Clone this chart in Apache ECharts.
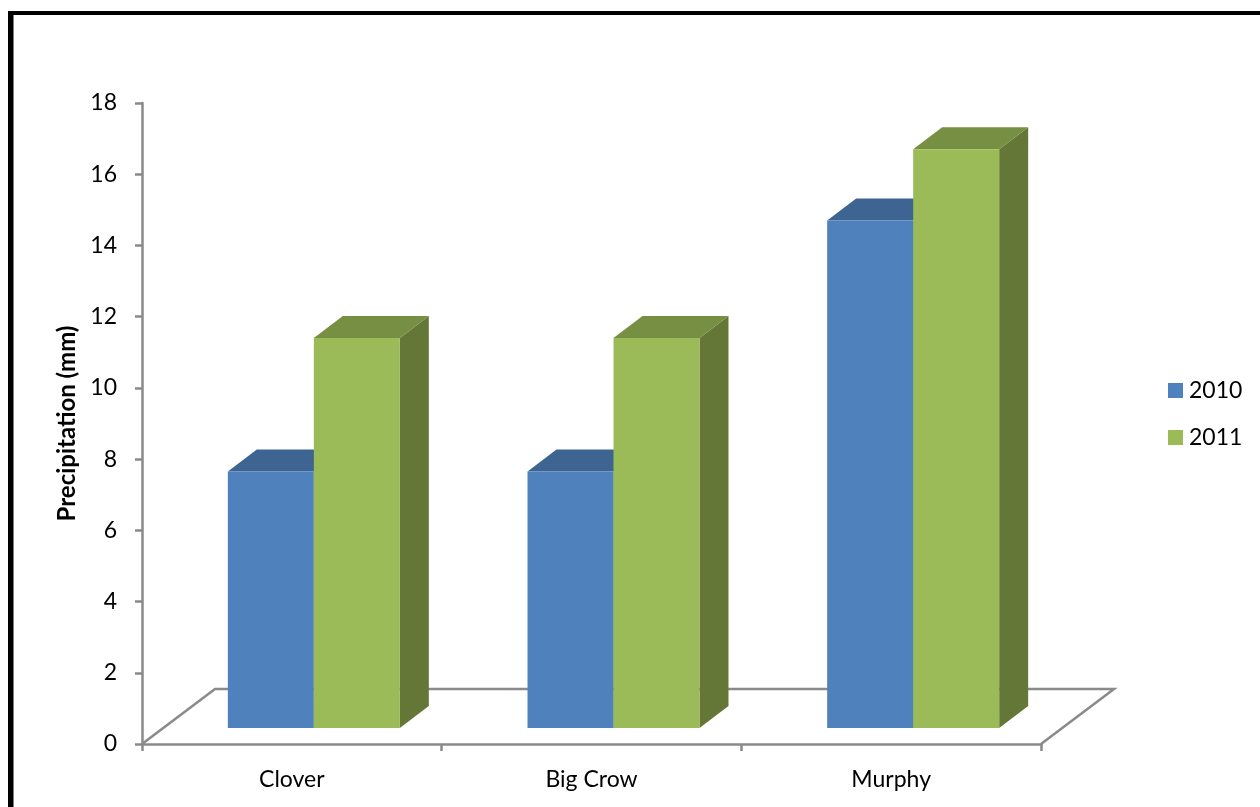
<!DOCTYPE html>
<html>
<head>
<meta charset="utf-8">
<style>html,body{margin:0;padding:0;background:#fff}#c{width:1260px;height:807px}</style>
<script src="https://cdn.jsdelivr.net/npm/echarts@6/dist/echarts.min.js"></script>
</head>
<body>
<div id="c"></div>
<script>
const categories = ['Clover', 'Big Crow', 'Murphy'];
const values2010 = [7.2, 7.2, 14.25];
const values2011 = [10.95, 10.95, 16.25];
const seriesNames = ['2010', '2011'];
const yTicks = { min: 0, max: 18, interval: 2 };

const FONT = 'Lato, Carlito, sans-serif';
const AXIS = '#8a8a8a';
const AXIS_W = 2.5;
const faces = [
  { front: '#4F81BD', top: '#3E6491', side: '#3A5F8B' },
  { front: '#9BBB59', top: '#778F43', side: '#657736' }
];
const DX = 29, DY = 22, LIFT = 16, SHIFT = 22, BAR = 86;

function barRenderer(seriesIndex) {
  return function (params, api) {
    const cat = api.value(0), val = api.value(1);
    const base = api.coord([cat, 0]);
    const top = api.coord([cat, val]);
    const x0 = base[0] + SHIFT + (seriesIndex - 1) * BAR;
    const x1 = x0 + BAR;
    const yb = base[1] - LIFT, yt = top[1] - LIFT;
    const f = faces[seriesIndex];
    return {
      type: 'group',
      children: [
        { type: 'polygon', shape: { points: [[x1, yb], [x1 + DX, yb - DY], [x1 + DX, yt - DY], [x1, yt]] }, style: { fill: f.side } },
        { type: 'polygon', shape: { points: [[x0, yt], [x1, yt], [x1 + DX, yt - DY], [x0 + DX, yt - DY]] }, style: { fill: f.top } },
        { type: 'rect', shape: { x: x0, y: yt, width: BAR, height: yb - yt }, style: { fill: f.front } }
      ]
    };
  };
}

function floorRenderer(params, api) {
  const s = params.coordSys;
  const l = s.x, r = s.x + s.width, b = s.y + s.height;
  const fx = 73, fy = 55;
  return {
    type: 'polyline',
    shape: { points: [[l, b], [l + fx, b - fy], [r + fx, b - fy], [r, b]] },
    style: { fill: null, stroke: AXIS, lineWidth: AXIS_W }
  };
}

const chart = echarts.init(document.getElementById('c'), null, { renderer: 'canvas' });
chart.setOption({
  animation: false,
  backgroundColor: '#fff',
  grid: { left: 142, top: 103, width: 899, height: 641, containLabel: false },
  legend: {
    orient: 'vertical', left: 1163, top: 374,
    itemWidth: 15, itemHeight: 15, itemGap: 24,
    icon: 'rect',
    data: seriesNames,
    textStyle: { fontFamily: FONT, fontSize: 23, color: '#000', padding: [0, 0, 0, 1] }
  },
  xAxis: {
    type: 'category', data: categories, boundaryGap: true,
    axisLine: { show: true, onZero: false, lineStyle: { color: AXIS, width: AXIS_W } },
    axisTick: { show: true, alignWithLabel: false, length: 7, lineStyle: { color: AXIS, width: AXIS_W } },
    axisLabel: { fontFamily: FONT, fontSize: 23, color: '#000', margin: 24 },
    splitLine: { show: false }
  },
  yAxis: {
    type: 'value', min: yTicks.min, max: yTicks.max, interval: yTicks.interval,
    name: 'Precipitation (mm)', nameLocation: 'middle', nameGap: 61, nameRotate: 90,
    nameTextStyle: { fontFamily: FONT, fontSize: 24, fontWeight: 'bold', color: '#000' },
    axisLine: { show: true, lineStyle: { color: AXIS, width: AXIS_W } },
    axisTick: { show: true, length: 7, lineStyle: { color: AXIS, width: AXIS_W } },
    axisLabel: { fontFamily: FONT, fontSize: 23, color: '#000', margin: 25 },
    splitLine: { show: false }
  },
  graphic: [
    { type: 'rect', shape: { x: 8, y: 11, width: 5.5, height: 796 }, style: { fill: '#000' } },
    { type: 'rect', shape: { x: 8, y: 11, width: 1252, height: 4 }, style: { fill: '#000' } }
  ],
  series: [
    { type: 'custom', name: 'floor', silent: true, z: 1, coordinateSystem: 'cartesian2d', renderItem: floorRenderer, data: [[0, 0]], encode: { x: 0, y: 1 } },
    { type: 'custom', name: seriesNames[0], z: 2, itemStyle: { color: faces[0].front }, renderItem: barRenderer(0), data: categories.map((c, i) => [i, values2010[i]]), encode: { x: 0, y: 1 } },
    { type: 'custom', name: seriesNames[1], z: 3, itemStyle: { color: faces[1].front }, renderItem: barRenderer(1), data: categories.map((c, i) => [i, values2011[i]]), encode: { x: 0, y: 1 } }
  ]
});
</script>
</body>
</html>
